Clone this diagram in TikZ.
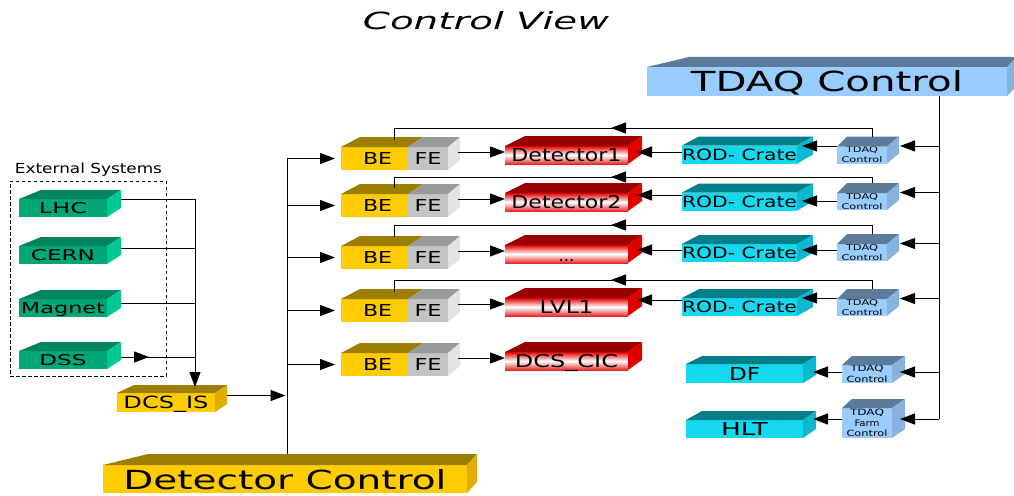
\documentclass[tikz,border=0pt]{standalone}
\usepackage{fontspec}
\setmainfont{DejaVu Sans}
\usepackage{graphicx}
\usetikzlibrary{arrows.meta,decorations.markings,calc}
\definecolor{gF}{HTML}{00A676}\definecolor{gT}{HTML}{00855E}\definecolor{gS}{HTML}{00C995}
\definecolor{yF}{HTML}{FFCC00}\definecolor{yT}{HTML}{9C7F00}\definecolor{yS}{HTML}{E0AE00}
\definecolor{sF}{HTML}{C4C4C4}\definecolor{sT}{HTML}{9A9A9A}\definecolor{sS}{HTML}{E3E3E3}
\definecolor{rT}{HTML}{990000}\definecolor{rS}{HTML}{E00000}\definecolor{rF}{HTML}{E40000}
\definecolor{cF}{HTML}{14D8EE}\definecolor{cT}{HTML}{007F8A}\definecolor{cS}{HTML}{0CB8CF}
\definecolor{bF}{HTML}{99CCFF}\definecolor{bT}{HTML}{5C7B9A}\definecolor{bS}{HTML}{88B2DE}
\newcommand{\ft}[3]{\resizebox{#1pt}{#2pt}{#3}}
\newcommand{\mkcube}[6]{%
  \fill[#5] (#1.north west) -- ++(#2,-#4) -- ([shift={(#3,-#4)}]#1.north east) -- (#1.north east) -- cycle;
  \fill[#6] (#1.north east) -- ++(#3,-#4) -- ([shift={(#3,-#4)}]#1.south east) -- (#1.south east) -- cycle;}
\begin{document}
\begin{tikzpicture}[x=1pt,y=-1pt,
  face/.style={inner sep=0pt,outer sep=0pt,text depth=0pt,anchor=center},
  grn/.style={face,fill=gF,minimum width=88pt,minimum height=18pt},
  ylw/.style={face,fill=yF},
  gry/.style={face,fill=sF},
  redbox/.style={face,top color=rF,bottom color=rF!85,middle color=white,minimum width=123pt,minimum height=18pt},
  cyn/.style={face,fill=cF},
  blu/.style={face,fill=bF},
  small/.style={inner sep=0pt,outer sep=0pt,fill=bF,minimum width=50pt,align=center,font=\fontsize{6}{10}\selectfont},
  conn/.style={line width=1pt,black},
  arr/.style={-{Triangle[length=15pt,width=11pt]}},
  midarr/.style={postaction={decorate},decoration={markings,mark=at position #1 with {\arrow{Triangle[length=15pt,width=11pt]}}}},
]
\fill[white] (0,0) rectangle (1014,495);
\useasboundingbox (0,0) rectangle (1014,495);

% titles
\node[face] (title) at (486,20.5) {\ft{246}{18}{\itshape Control View}};
\node[face] (ext) at (88.5,168) {\ft{147}{10.5}{External Systems}};
\node[draw,dashed,line width=0.9pt,dash pattern=on 3.5pt off 2.5pt,minimum width=156pt,minimum height=195pt,inner sep=0pt] (extbox) at (88,278.5) {};

% external systems
\node[grn] (LHC) at (63,208) {\ft{48}{11}{LHC}};
\node[grn] (CERN) at (63,255) {\ft{64}{11}{CERN}};
\node[grn] (MAG) at (63,308) {\ft{84}{11}{Magnet}};
\node[grn] (DSS) at (63,360) {\ft{47}{11}{DSS}};
\foreach \n in {LHC,CERN,MAG,DSS}{\mkcube{\n}{22}{14}{9}{gT}{gS}}

% DCS_IS and Detector Control
\node[ylw,minimum width=98pt,minimum height=19pt] (DCSIS) at (166,402.5) {\ft{85}{12.5}{DCS\_IS}};
\mkcube{DCSIS}{17}{12}{8}{yT}{yS}
\node[ylw,minimum width=364pt,minimum height=28pt] (DC) at (285,479) {\ft{323}{20}{Detector Control}};
\mkcube{DC}{45}{10}{11}{yT}{yS}

% TDAQ Control
\node[blu,minimum width=360pt,minimum height=29pt] (TDAQ) at (827,81.5) {\ft{272}{21}{TDAQ Control}};
\mkcube{TDAQ}{42}{10}{10}{bT}{bS}

% BE / FE rows
\foreach \i/\y in {1/158.5,2/205.5,3/257.5,4/310.5,5/364.5}{
  \node[ylw,minimum width=67pt,minimum height=23pt] (BE\i) at (374.5,\y) {\hspace*{6pt}\ft{29}{12}{BE}};
  \node[gry,minimum width=40pt,minimum height=23pt] (FE\i) at (428,\y) {\ft{27}{12}{FE}};
  \fill[yT] (BE\i.north west) -- ++(19,-10) -- ([shift={(15,-10)}]BE\i.north east) -- (BE\i.north east) -- cycle;
  \fill[sT] (FE\i.north west) -- ++(15,-10) -- ([shift={(12,-10)}]FE\i.north east) -- (FE\i.north east) -- cycle;
  \fill[sS] (FE\i.north east) -- ++(12,-10) -- ([shift={(12,-10)}]FE\i.south east) -- (FE\i.south east) -- cycle;
}

% detectors
\node[redbox] (R1) at (566.5,155) {\ft{110}{13}{Detector1}};
\node[redbox] (R2) at (566.5,202) {\ft{110}{13}{Detector2}};
\node[redbox,text height=14pt] (R3) at (566.5,254) {\resizebox{16pt}{!}{...}};
\node[redbox] (R4) at (566.5,307) {\ft{54}{13}{LVL1}};
\node[redbox] (R5) at (566.5,361) {\ft{103}{13}{DCS\_CIC}};
\foreach \i in {1,...,5}{\mkcube{R\i}{20}{14}{10}{rT}{rS}}

% ROD crates and TDAQ control boxes
\foreach \i/\y/\t in {1/154.5/155,2/201.5/201.5,3/253/252.5,4/307/307.5}{
  \node[cyn,minimum width=115pt,minimum height=18pt] (ROD\i) at (739.5,\y) {\ft{115}{11.5}{ROD- Crate}};
  \node[small,minimum height=17pt] (TC\i) at (862,\t) {\ft{32}{6}{TDAQ}\\\ft{41}{6}{Control}};
  \mkcube{ROD\i}{17}{16}{9}{cT}{cS}
  \mkcube{TC\i}{10}{12}{10}{bT}{bS}
}

% DF and HLT
\node[cyn,minimum width=117pt,minimum height=19pt] (DF) at (744.5,373.5) {\ft{31}{13}{DF}};
\node[cyn,minimum width=117pt,minimum height=18pt] (HLT) at (744.5,429) {\ft{47}{13}{HLT}};
\mkcube{DF}{16}{13}{8}{cT}{cS}
\mkcube{HLT}{16}{13}{9}{cT}{cS}
\node[small,minimum height=18pt,font=\fontsize{6}{11}\selectfont] (DFs) at (867,374) {\ft{33}{6.5}{TDAQ}\\\ft{41}{6.5}{Control}};
\node[small,minimum height=30pt,font=\fontsize{6}{10.5}\selectfont] (HLTs) at (867,423) {\ft{34}{6.5}{TDAQ}\\\ft{25}{6.5}{Farm}\\\ft{41}{6.5}{Control}};
\mkcube{DFs}{10}{13}{9}{bT}{bS}
\mkcube{HLTs}{10}{13}{9}{bT}{bS}

% ---- connectors: external systems
\coordinate (isin) at ([shift={(29,-6)}]DCSIS.north);
\draw[conn,arr] ([shift={(14,-9)}]LHC.east) -| (isin);
\draw[conn] ([shift={(14,-7)}]CERN.east) coordinate (c2) -- (c2 -| isin);
\draw[conn] ([shift={(14,-5)}]MAG.east) coordinate (c3) -- (c3 -| isin);
\draw[conn,midarr=28pt] ([shift={(14,-3)}]DSS.east) coordinate (c4) -- (c4 -| isin);

% DCS_IS to bus, bus to BE
\coordinate (bus) at ([shift={(2,-11)}]DC.north);
\draw[conn,arr,shorten >=1.5pt] ([shift={(12,-7)}]DCSIS.east) coordinate (d1) -- (d1 -| bus);
\draw[conn] (bus) -- (BE1.west -| bus);
\foreach \i in {1,...,5}{\draw[conn,arr,shorten >=6pt] (BE\i.west -| bus) -- (BE\i.west);}

% FE to detectors
\foreach \i in {1,...,5}{
  \path ([xshift=10pt]FE\i.east) coordinate (fes) ([yshift=3pt]R\i.west) coordinate (rin);
  \draw[conn,arr] (rin -| fes) -- (rin);
}

% TDAQ bus
\coordinate (tb) at ([xshift=112pt]TDAQ.south);
\path ([shift={(8,-2)}]DFs.east) coordinate (dfi) ([shift={(8,-4)}]HLTs.east) coordinate (hli);
\draw[conn] (tb) -- (hli -| tb);
\foreach \i in {1,...,4}{
  \path ([shift={(13,-9)}]TC\i.east) coordinate (tci);
  \draw[conn,arr] (tci -| tb) -- (tci);
}
\draw[conn,arr] (dfi -| tb) -- (dfi);
\draw[conn,arr] (hli -| tb) -- (hli);

% TDAQ control boxes to ROD crates
\foreach \i/\u in {1/8.5pt,2/0.5pt,3/3pt,4/9pt}{
  \path ([xshift=5pt,yshift=\u]ROD\i.east) coordinate (ri);
  \draw[conn,arr] (ri -| TC\i.west) -- (ri);
}
% ROD crates to detectors
\foreach \i/\u in {1/3pt,2/7pt,3/4pt,4/7pt}{
  \path ([xshift=9pt,yshift=\u]R\i.east) coordinate (ri);
  \draw[conn,arr] (ri -| ROD\i.west) -- (ri);
}
% DF / HLT
\path ([shift={(10,-1.5)}]DF.east) coordinate (dfx) ([shift={(10,-10)}]HLT.east) coordinate (hlx);
\draw[conn,arr] (dfx -| DFs.west) -- (dfx);
\draw[conn,arr] (hlx -| HLTs.west) -- (hlx);

% feedback lines from TDAQ control boxes to BE
\draw[conn,midarr=269.5pt] ([shift={(10,-10)}]TC1.north) -- ++(0,-8.5) -| ([shift={(19.5,-7)}]BE1.north);
\draw[conn,midarr=267pt] ([shift={(10,-10)}]TC2.north) -- ++(0,-6) -| ([shift={(19.5,-6)}]BE2.north);
\draw[conn,midarr=270pt] ([shift={(10,-10)}]TC3.north) -- ++(0,-9) -| ([shift={(19.5,-9)}]BE3.north);
\draw[conn,midarr=270pt] ([shift={(10,-10)}]TC4.north) -- ++(0,-9) -| ([shift={(19.5,-7)}]BE4.north);
\end{tikzpicture}
\end{document}
